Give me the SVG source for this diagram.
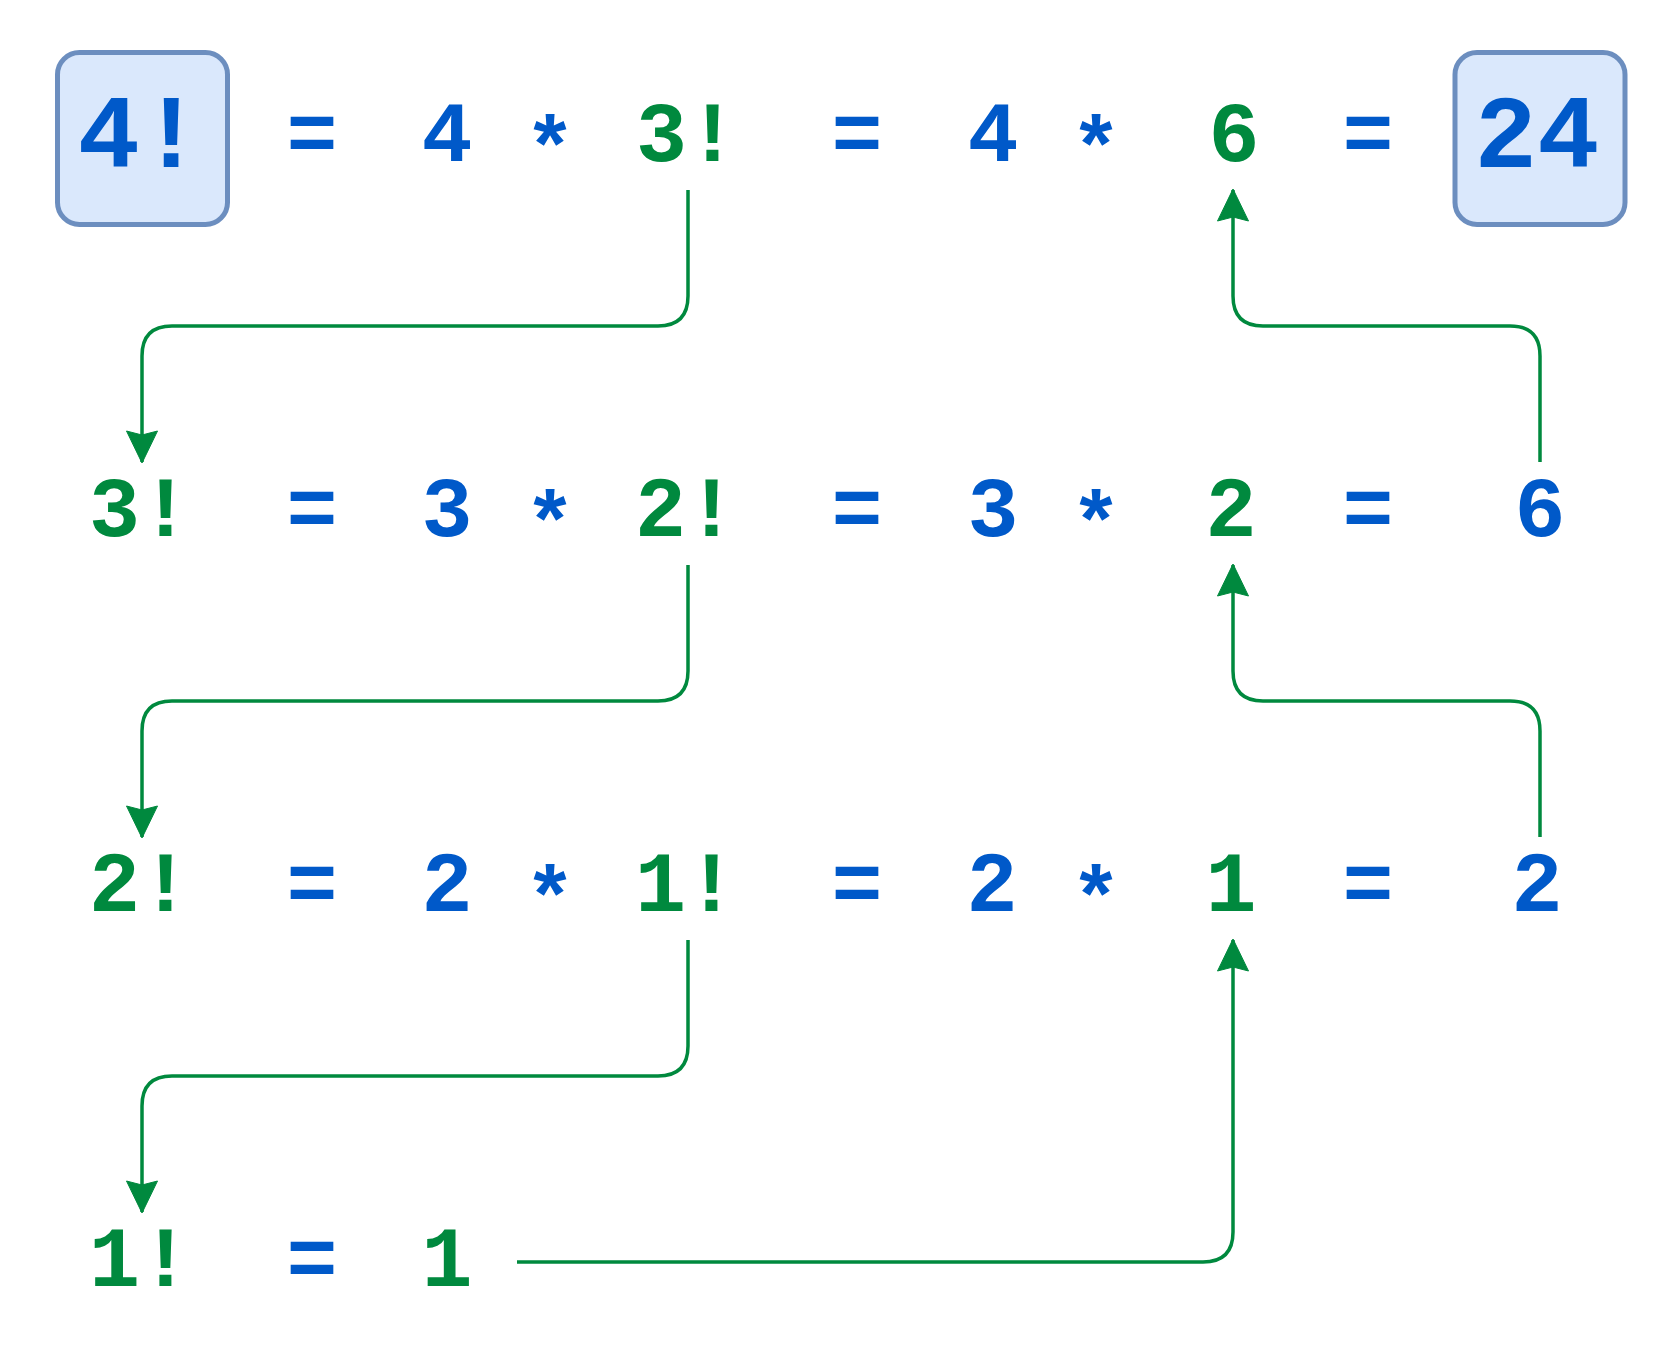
<svg xmlns="http://www.w3.org/2000/svg" width="1678" height="1368" viewBox="0 0 1678 1368">
<style>
text{font-family:"Liberation Mono","Courier New",monospace;font-weight:bold;font-size:85px;text-anchor:middle}
.b{fill:#0059C9}
.g{fill:#00893E}
.big{font-size:104px}
.box{fill:#DAE8FC;stroke:#6C8EBF;stroke-width:5}
.edge{fill:none;stroke:#00893E;stroke-width:3.5}
</style>
<defs>
<marker id="arr" markerUnits="userSpaceOnUse" markerWidth="34" markerHeight="34" viewBox="-32 -17 34 34" refX="0" refY="0" orient="auto">
<path d="M1,0 L-31,-15.5 L-27,0 L-31,15.5 Z" fill="#00893E" stroke="#00893E" stroke-width="1" stroke-linejoin="round"/>
</marker>
</defs>
<rect width="1678" height="1368" fill="#FFFFFF"/>
<g id="connectors">
<path class="edge" marker-end="url(#arr)" d="M688,190 V296 Q688,326 658,326 H172 Q142,326 142,356 V462"/>
<path class="edge" marker-end="url(#arr)" d="M688,565 V671 Q688,701 658,701 H172 Q142,701 142,731 V837"/>
<path class="edge" marker-end="url(#arr)" d="M688,940 V1046 Q688,1076 658,1076 H172 Q142,1076 142,1106 V1212"/>
<path class="edge" marker-end="url(#arr)" d="M1540,462 V356 Q1540,326 1510,326 H1263 Q1233,326 1233,296 V190"/>
<path class="edge" marker-end="url(#arr)" d="M1540,837 V731 Q1540,701 1510,701 H1263 Q1233,701 1233,671 V565"/>
<path class="edge" marker-end="url(#arr)" d="M517,1262 H1203 Q1233,1262 1233,1232 V940"/>
</g>
<g id="n-4fact">
<rect class="box" x="57.5" y="52.5" width="170" height="172" rx="22"/>
<text class="b big" x="140" y="167">4!</text>
</g>
<g id="n-24">
<rect class="box" x="1455" y="52.5" width="170" height="172" rx="22"/>
<text class="b big" x="1537" y="167">24</text>
</g>
<g id="row1">
<text class="b" x="312" y="161">=</text>
<text class="b" x="447" y="161">4</text>
<text class="b" x="550" y="176">*</text>
<text class="g" x="687" y="161">3!</text>
<text class="b" x="857" y="161">=</text>
<text class="b" x="993" y="161">4</text>
<text class="b" x="1096" y="176">*</text>
<text class="g" x="1234" y="161">6</text>
<text class="b" x="1368" y="161">=</text>
</g>
<g id="row2">
<text class="g" x="140" y="536">3!</text>
<text class="b" x="312" y="536">=</text>
<text class="b" x="447" y="536">3</text>
<text class="b" x="550" y="551">*</text>
<text class="g" x="686" y="536">2!</text>
<text class="b" x="857" y="536">=</text>
<text class="b" x="993" y="536">3</text>
<text class="b" x="1096" y="551">*</text>
<text class="g" x="1231" y="536">2</text>
<text class="b" x="1368" y="536">=</text>
<text class="b" x="1540" y="536">6</text>
</g>
<g id="row3">
<text class="g" x="140" y="911">2!</text>
<text class="b" x="312" y="911">=</text>
<text class="b" x="447" y="911">2</text>
<text class="b" x="550" y="926">*</text>
<text class="g" x="686" y="911">1!</text>
<text class="b" x="857" y="911">=</text>
<text class="b" x="992" y="911">2</text>
<text class="b" x="1096" y="926">*</text>
<text class="g" x="1231" y="911">1</text>
<text class="b" x="1368" y="911">=</text>
<text class="b" x="1537" y="911">2</text>
</g>
<g id="row4">
<text class="g" x="140" y="1286">1!</text>
<text class="b" x="312" y="1286">=</text>
<text class="g" x="447" y="1286">1</text>
</g>
</svg>
